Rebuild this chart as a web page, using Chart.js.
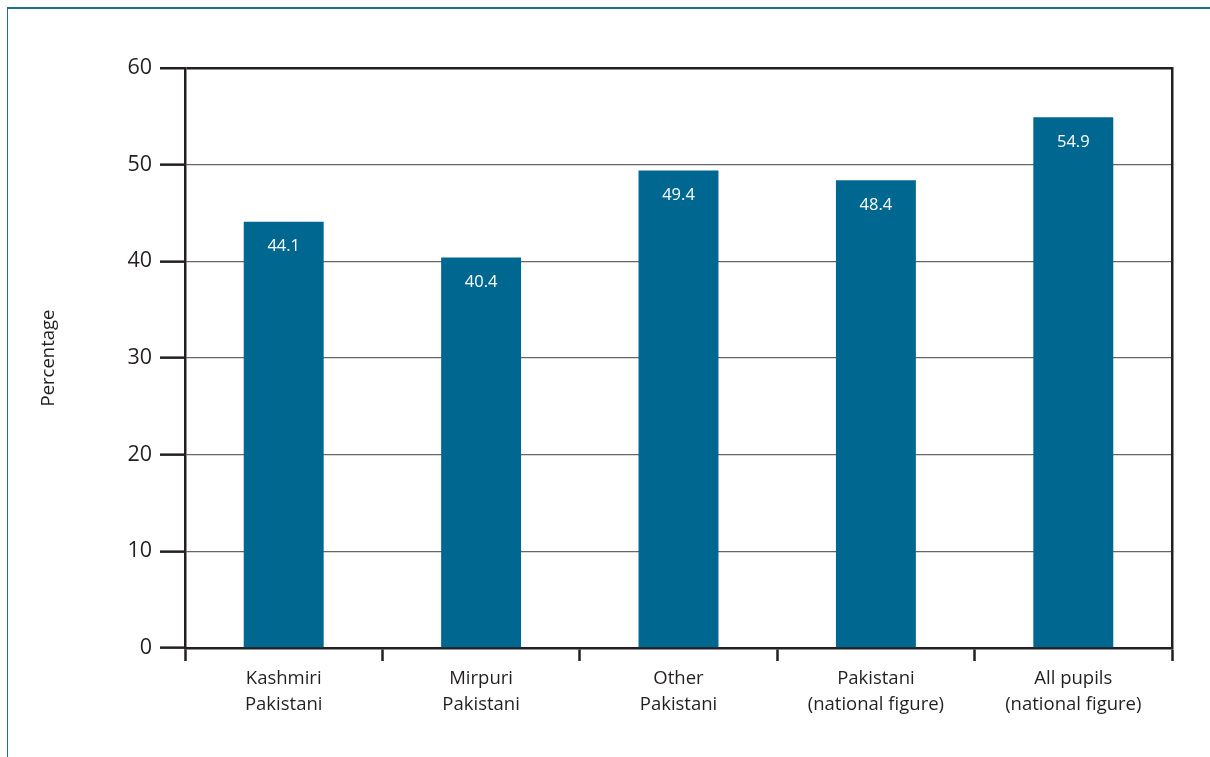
<!DOCTYPE html>
<html>
<head>
<meta charset="utf-8">
<script src="https://cdn.jsdelivr.net/npm/chart.js@4.4.1/dist/chart.umd.min.js"></script>
<style>
  body { margin: 0; background: #fff; overflow: hidden; }
  #frame { position: absolute; left: 7px; top: 7px; width: 1300px; height: 900px;
           border-left: 1.5px solid #1f6f8f; border-top: 2px solid #1f6f8f; }
  #wrap { position: absolute; left: 0; top: 0; width: 1210px; height: 757px; }
</style>
</head>
<body>
<div id="frame"></div>
<div id="wrap"><canvas id="chart" width="1210" height="757"></canvas></div>
<script>
const categories = [
  ['Kashmiri', 'Pakistani'],
  ['Mirpuri', 'Pakistani'],
  ['Other', 'Pakistani'],
  ['Pakistani', '(national figure)'],
  ['All pupils', '(national figure)']
];
const percentages = [44.1, 40.4, 49.4, 48.4, 54.9];
const yTicks = [0, 10, 20, 30, 40, 50, 60];

const FONT = "'Open Sans', 'Noto Sans', sans-serif";
const DARK = '#231f20';

// white value labels inside top of each bar
const valueLabels = {
  id: 'valueLabels',
  afterDatasetsDraw(chart) {
    const ctx = chart.ctx;
    const meta = chart.getDatasetMeta(0);
    ctx.save();
    ctx.fillStyle = '#ffffff';
    ctx.font = '16.5px ' + FONT;
    ctx.textAlign = 'center';
    ctx.textBaseline = 'middle';
    meta.data.forEach((bar, i) => {
      ctx.fillText(percentages[i].toFixed(1), bar.x, bar.y + 25);
    });
    ctx.restore();
  }
};

new Chart(document.getElementById('chart'), {
  type: 'bar',
  data: {
    labels: categories,
    datasets: [{
      data: percentages,
      backgroundColor: '#006890',
      barPercentage: 0.405,
      categoryPercentage: 1
    }]
  },
  options: {
    responsive: false,
    animation: false,
    layout: { padding: { top: 68, right: 38, left: 0, bottom: 0 } },
    plugins: { legend: { display: false }, tooltip: { enabled: false } },
    scales: {
      x: {
        offset: true,
        grid: {
          offset: true,
          drawOnChartArea: false,
          drawTicks: true,
          tickLength: 13,
          tickColor: DARK,
          tickWidth: 2.5
        },
        border: { color: DARK, width: 2.5 },
        ticks: {
          color: DARK,
          font: { family: FONT, size: 18.5, lineHeight: 1.38 },
          padding: 5,
          maxRotation: 0
        },
        afterFit(scale) { scale.height = 109; }
      },
      y: {
        min: 0,
        max: 60,
        afterBuildTicks(scale) { scale.ticks = yTicks.map(v => ({ value: v })); },
        grid: {
          color: ctx => (ctx.tick && ctx.tick.value === 60) ? DARK : '#666666',
          lineWidth: ctx => (ctx.tick && ctx.tick.value === 60) ? 2.5 : 1.3,
          tickLength: 25,
          tickColor: DARK,
          tickWidth: 2.5
        },
        border: { color: DARK, width: 2.5 },
        ticks: {
          color: DARK,
          font: { family: FONT, size: 21.5 },
          padding: 8
        },
        title: {
          display: true,
          text: 'Percentage',
          color: DARK,
          font: { family: FONT, size: 18.5 },
          padding: { top: 38, bottom: 0 }
        },
        afterFit(scale) { scale.width = 185; }
      },
      yRight: {
        position: 'right',
        min: 0,
        max: 60,
        grid: { drawOnChartArea: false, drawTicks: false },
        border: { color: DARK, width: 2.5 },
        ticks: { display: false },
        afterFit(scale) { scale.width = 0; }
      }
    }
  },
  plugins: [valueLabels]
});
</script>
</body>
</html>
